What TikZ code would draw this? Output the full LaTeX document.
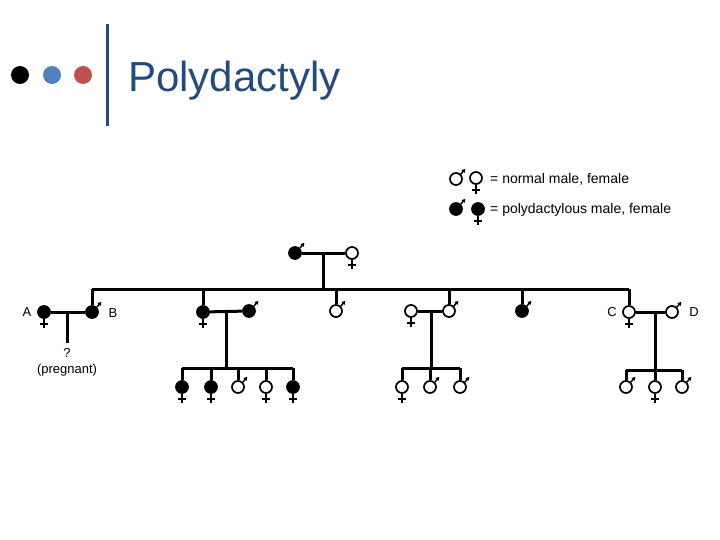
\documentclass[tikz,border=0pt]{standalone}
\usepackage{fontspec}
\setmainfont{Liberation Sans}
\usetikzlibrary{arrows.meta}
\definecolor{titleblue}{HTML}{254A7C}
\definecolor{dotblue}{HTML}{4F81BD}
\definecolor{dotred}{HTML}{C0504D}
\tikzset{
  ind/.style={circle, draw, line width=1.7pt, minimum size=12pt, inner sep=0pt},
  aff/.style={fill=black},
  malesym/.style={ind, append after command={
      (\tikzlastnode.45) edge[line width=1.5pt, -{Triangle[length=3.5pt,width=4pt]}] ++(50:7pt)}},
  femalesym/.style={ind, append after command={
      (\tikzlastnode.south) edge[line width=1.5pt] ++(0,-9pt)
      ([xshift=-4pt,yshift=-5pt]\tikzlastnode.south) edge[line width=1.5pt] ++(8pt,0)}},
  pline/.style={line width=3pt},
  lbl/.style={font=\fontsize{13}{15}\selectfont, inner sep=0pt},
  legtxt/.style={font=\fontsize{14}{16}\selectfont, inner sep=0pt, anchor=west},
}
\begin{document}
\begin{tikzpicture}[x=1pt,y=-1pt]
\useasboundingbox (0,0) rectangle (720,540);
% title
\fill[black] (20,75) circle (9);
\fill[dotblue] (52,75) circle (9);
\fill[dotred] (83,75) circle (9);
\draw[titleblue, line width=3pt] (107,24) -- (107,126);
\node[anchor=base west, text=titleblue, inner sep=0pt, font=\fontsize{42}{48}\selectfont] (title) at (128,92) {Polydactyly};
% legend
\node[malesym] (lm) at (456,179) {};
\node[femalesym] (lf) at (476,178) {};
\node[legtxt] (lt1) at (490,179) {= normal male, female};
\node[malesym, aff] (lam) at (456,209) {};
\node[femalesym, aff] (laf) at (478,209) {};
\node[legtxt] (lt2) at (490,210) {= polydactylous male, female};
% generation I
\node[malesym, aff] (I1) at (295,253) {};
\node[femalesym] (I2) at (352,253) {};
\draw[pline] (I1) -- (I2);
\coordinate (m1) at (323,253);
\coordinate (s1) at (323,289);
\draw[pline] (m1) -- (s1);
% generation II
\node[femalesym, aff] (A) at (44,312) {};
\node[malesym, aff] (B) at (92,312) {};
\node[femalesym, aff] (II3) at (203,312) {};
\node[malesym, aff] (II4) at (249,311) {};
\node[malesym] (II5) at (336,311) {};
\node[femalesym] (II6) at (411,311) {};
\node[malesym] (II7) at (449,311) {};
\node[malesym, aff] (II8) at (522,311) {};
\node[femalesym] (C) at (629,312) {};
\node[malesym] (D) at (672,312) {};
\node[lbl] (lA) at (27,312) {A};
\node[lbl] (lB) at (113,313) {B};
\node[lbl] (lC) at (612,312) {C};
\node[lbl] (lD) at (694,312) {D};
\coordinate (sL) at (92,289);
\coordinate (sR) at (629,289);
\draw[pline] (sL) -- (sR);
\foreach \n in {B,II3,II5,II7,II8,C} \draw[pline] (\n.north |- sL) -- (\n.north);
% A x B
\draw[pline] (A) -- (B);
\coordinate (mAB) at (67,312);
\coordinate (dAB) at (67,343);
\draw[pline] (mAB) -- (dAB);
\node[lbl] (q) at (67,353) {?};
\node[lbl] (preg) at (67,370) {(pregnant)};
% II3 x II4
\draw[pline] (II3) -- (II4);
\coordinate (m2) at (226,311);
\coordinate (s2) at (226,368);
\draw[pline] (m2) -- (s2);
\node[femalesym, aff] (III1) at (182,387) {};
\node[femalesym, aff] (III2) at (211,387) {};
\node[malesym] (III3) at (238,387) {};
\node[femalesym] (III4) at (266,387) {};
\node[femalesym, aff] (III5) at (293,387) {};
\draw[pline] (III1.north |- s2) -- (III5.north |- s2);
\foreach \n in {III1,III2,III3,III4,III5} \draw[pline] (\n.north |- s2) -- (\n.north);
% II6 x II7
\draw[pline] (II6) -- (II7);
\coordinate (m3) at (431,311);
\coordinate (s3) at (431,368);
\draw[pline] (m3) -- (s3);
\node[femalesym] (III6) at (402,387) {};
\node[malesym] (III7) at (430,387) {};
\node[malesym] (III8) at (460,387) {};
\draw[pline] (III6.north |- s3) -- (III8.north |- s3);
\foreach \n in {III6,III7,III8} \draw[pline] (\n.north |- s3) -- (\n.north);
% C x D
\draw[pline] (C) -- (D);
\coordinate (m4) at (655,312);
\coordinate (s4) at (655,370);
\draw[pline] (m4) -- (s4);
\node[malesym] (III9) at (626,387) {};
\node[femalesym] (III10) at (655,387) {};
\node[malesym] (III11) at (682,387) {};
\draw[pline] (III9.north |- s4) -- (III11.north |- s4);
\foreach \n in {III9,III10,III11} \draw[pline] (\n.north |- s4) -- (\n.north);
\end{tikzpicture}
\end{document}
